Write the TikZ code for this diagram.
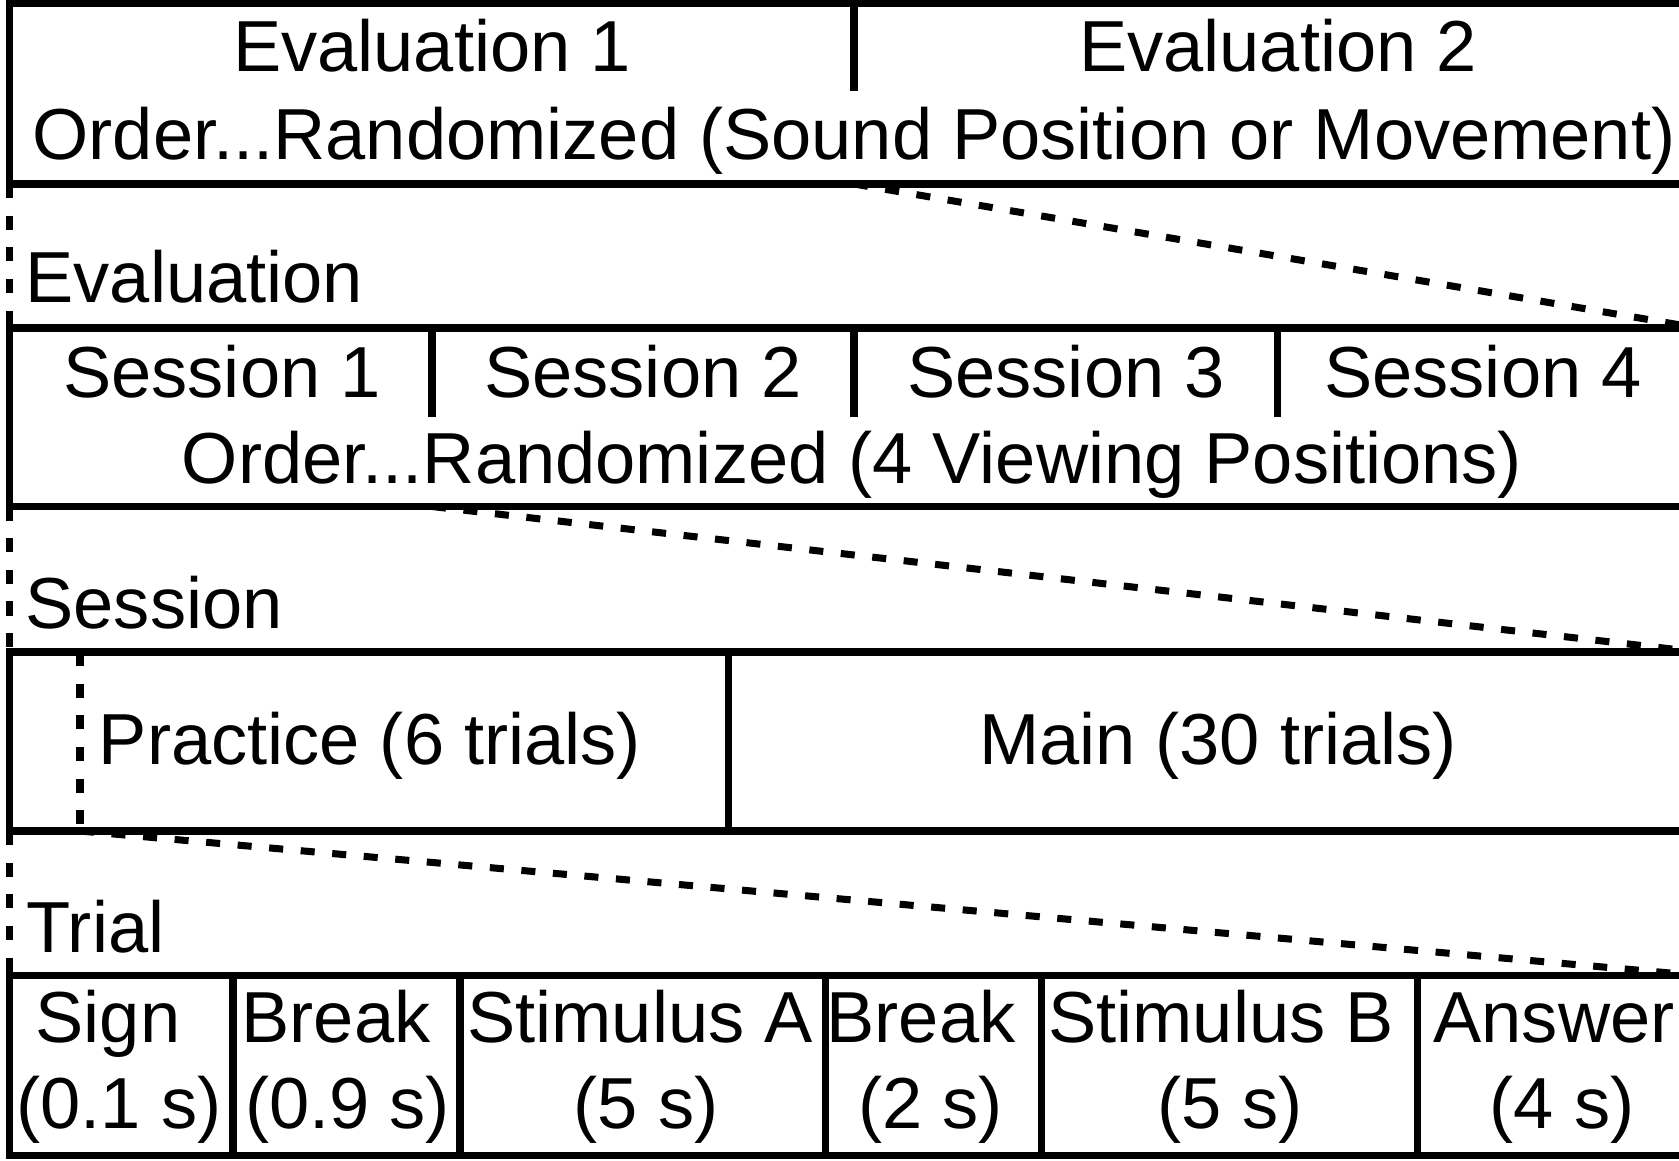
\documentclass[tikz,border=0pt]{standalone}
\usepackage{fontspec}
\setmainfont{Liberation Sans}
\begin{document}
\begin{tikzpicture}[x=0.01cm,y=-0.01cm,line width=2pt,
  txt/.style={inner sep=0pt,anchor=base,font=\fontsize{20.55}{24}\selectfont},
  lefttxt/.style={txt,anchor=base west},
  zoomline/.style={dash pattern=on 4pt off 5pt}]
\useasboundingbox (0,0) rectangle (1679,1161);
\clip (0,0) rectangle (1679,1161);

% evaluations
\draw (9.5,3.5) rectangle (1698,184);
\draw (854,3.5) -- (854,91);
\node[txt] (eval1) at (432,72) {Evaluation 1};
\node[txt] (eval2) at (1278,72) {Evaluation 2};
\node[txt] (evalorder) at (854,160) {Order...Randomized (Sound Position or Movement)};
\coordinate (evalsw) at (9.5,184);
\coordinate (evaldiv) at (854,184);

% one evaluation
\node[lefttxt] (evallbl) at (22,303) {Evaluation};
\draw (9.5,328) rectangle (1698,506.5);
\draw (432,328) -- (432,417);
\draw (854,328) -- (854,417);
\draw (1277,328) -- (1277,417);
\node[txt] (sess1) at (222,397) {Session 1};
\node[txt] (sess2) at (643,397) {Session 2};
\node[txt] (sess3) at (1066,397) {Session 3};
\node[txt] (sess4) at (1483,397) {Session 4};
\node[txt] (sessorder) at (852,483) {Order...Randomized (4 Viewing Positions)};
\coordinate (sessnw) at (9.5,328);
\coordinate (sessne) at (1698,328);
\coordinate (sesssw) at (9.5,506.5);
\coordinate (sessdiv) at (432,506.5);

% one session
\node[lefttxt] (sesslbl) at (22,628) {Session};
\draw (9.5,652) rectangle (1698,831);
\draw (728.5,652) -- (728.5,831);
\draw[zoomline] (80,652) -- (80,831);
\node[txt] (practice) at (370,764) {Practice (6 trials)};
\node[txt] (main) at (1218,764) {Main (30 trials)};
\coordinate (partnw) at (9.5,652);
\coordinate (partne) at (1698,652);
\coordinate (partsw) at (9.5,831);
\coordinate (pracdiv) at (80,831);

% one trial
\node[lefttxt] (triallbl) at (23,952) {Trial};
\draw (9.5,975.5) rectangle (1698,1155.5);
\foreach \x in {233,460,825.5,1041.5,1417}
  \draw (\x,975.5) -- (\x,1155.5);
\node[txt] (sign) at (108,1042) {Sign};
\node[txt] (signt) at (119,1128) {(0.1 s)};
\node[txt] (brka) at (336,1042) {Break};
\node[txt] (brkat) at (347.5,1128) {(0.9 s)};
\node[txt] (stima) at (640,1042) {Stimulus A};
\node[txt] (stimat) at (646,1128) {(5 s)};
\node[txt] (brkb) at (921,1042) {Break};
\node[txt] (brkbt) at (930.5,1128) {(2 s)};
\node[txt] (stimb) at (1221,1042) {Stimulus B};
\node[txt] (stimbt) at (1230,1128) {(5 s)};
\node[txt] (answer) at (1554,1042) {Answer};
\node[txt] (answert) at (1562,1128) {(4 s)};
\coordinate (trialnw) at (9.5,975.5);
\coordinate (trialne) at (1698,975.5);

% zoom lines
\draw[zoomline] (evalsw) -- (sessnw);
\draw[zoomline] (evaldiv) -- (sessne);
\draw[zoomline] (sesssw) -- (partnw);
\draw[zoomline] (sessdiv) -- (partne);
\draw[zoomline] (partsw) -- (trialnw);
\draw[zoomline] (pracdiv) -- (trialne);
\end{tikzpicture}
\end{document}
